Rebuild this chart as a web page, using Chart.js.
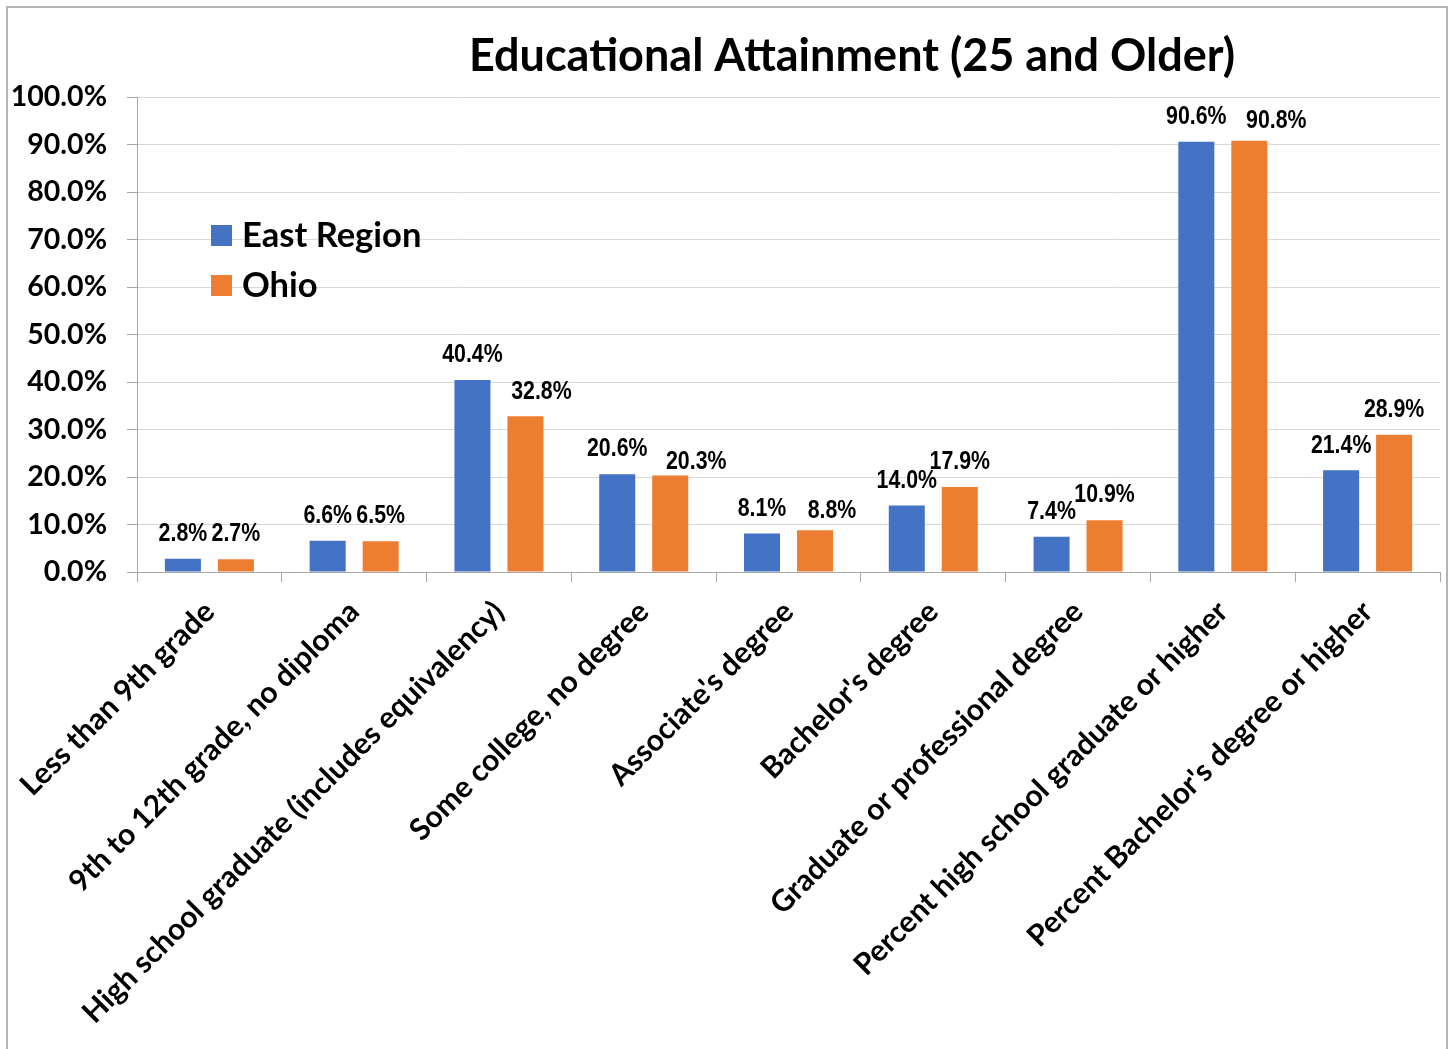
<!DOCTYPE html>
<html>
<head>
<meta charset="utf-8">
<script src="https://cdn.jsdelivr.net/npm/chart.js@4/dist/chart.umd.min.js"></script>
<style>
  html, body { margin: 0; padding: 0; background: #ffffff; }
  #wrap { position: relative; width: 1453px; height: 1049px; }
</style>
</head>
<body>
<div id="wrap"><canvas id="c" width="1453" height="1049"></canvas></div>
<script>
const categories = [
  "Less than 9th grade",
  "9th to 12th grade, no diploma",
  "High school graduate (includes equivalency)",
  "Some college, no degree",
  "Associate's degree",
  "Bachelor's degree",
  "Graduate or professional degree",
  "Percent high school graduate or higher",
  "Percent Bachelor's degree or higher"
];
const seriesNames = ["East Region", "Ohio"];
const eastRegion = [2.8, 6.6, 40.4, 20.6, 8.1, 14.0, 7.4, 90.6, 21.4];
const ohio = [2.7, 6.5, 32.8, 20.3, 8.8, 17.9, 10.9, 90.8, 28.9];
const yTicks = [0, 10, 20, 30, 40, 50, 60, 70, 80, 90, 100];
const chartTitle = "Educational Attainment (25 and Older)";

// style / layout settings
const COLORS = ["#4472C4", "#ED7D31"];
const FONT_MAIN = "Lato, 'Open Sans', sans-serif";
const FONT_LABEL = "'Liberation Sans', Arial, sans-serif";
const LABEL_SQUEEZE = 0.82; // emulate a narrow face
// small manual nudges for data labels (as in the source, to avoid overlaps)
const labelNudge = [
  { dx: [0,0,0,0,0,0,0,0,0], dy: [0,0,0,0,0,0,0,0,0] },
  { dx: [0,0,16,26,17,0,0,27,0], dy: [0,0,1,11,6,0,0,5,0] }
];

const borderPlugin = {
  id: 'outerBorder',
  beforeDraw(chart) {
    const ctx = chart.ctx;
    ctx.save();
    ctx.fillStyle = '#ffffff';
    ctx.fillRect(0, 0, chart.width, chart.height);
    ctx.strokeStyle = '#b4b4b4';
    ctx.lineWidth = 2;
    ctx.beginPath();
    ctx.moveTo(7, chart.height + 5);
    ctx.lineTo(7, 7);
    ctx.lineTo(1447, 7);
    ctx.lineTo(1447, chart.height + 5);
    ctx.stroke();
    ctx.restore();
  }
};

const titlePlugin = {
  id: 'customTitle',
  afterDraw(chart) {
    const ctx = chart.ctx;
    ctx.save();
    ctx.font = "bold 45px " + FONT_MAIN;
    ctx.fillStyle = '#000000';
    ctx.textAlign = 'center';
    ctx.textBaseline = 'middle';
    ctx.fillText(chartTitle, 852, 56);
    ctx.restore();
  }
};

const legendPlugin = {
  id: 'customLegend',
  afterDraw(chart) {
    const ctx = chart.ctx;
    ctx.save();
    ctx.font = "bold 34.5px " + FONT_MAIN;
    ctx.textBaseline = 'middle';
    ctx.textAlign = 'left';
    chart.data.datasets.forEach((ds, i) => {
      const y = 225 + i * 50;
      ctx.fillStyle = ds.backgroundColor;
      ctx.fillRect(211, y, 21, 21);
      ctx.fillStyle = '#000000';
      ctx.fillText(ds.label, 242, y + 11);
    });
    ctx.restore();
  }
};

const dataLabelPlugin = {
  id: 'dataLabels',
  afterDatasetsDraw(chart) {
    const ctx = chart.ctx;
    chart.data.datasets.forEach((ds, di) => {
      const meta = chart.getDatasetMeta(di);
      meta.data.forEach((bar, i) => {
        const v = ds.data[i];
        const nx = labelNudge[di].dx[i];
        const ny = labelNudge[di].dy[i];
        ctx.save();
        ctx.font = "bold 26px " + FONT_LABEL;
        ctx.fillStyle = '#000000';
        ctx.textAlign = 'center';
        ctx.textBaseline = 'middle';
        ctx.translate(bar.x + nx, bar.y - 25 + ny);
        ctx.scale(LABEL_SQUEEZE, 1);
        ctx.fillText(v.toFixed(1) + '%', 0, 0);
        ctx.restore();
      });
    });
  }
};

new Chart(document.getElementById('c'), {
  type: 'bar',
  data: {
    labels: categories,
    datasets: [
      { label: seriesNames[0], data: eastRegion, backgroundColor: COLORS[0] },
      { label: seriesNames[1], data: ohio, backgroundColor: COLORS[1] }
    ]
  },
  options: {
    responsive: false,
    animation: false,
    devicePixelRatio: 1,
    layout: { padding: { top: 97, right: 13, left: 0, bottom: 0 } },
    datasets: { bar: { categoryPercentage: 0.732, barPercentage: 0.68 } },
    plugins: {
      legend: { display: false },
      title: { display: false },
      tooltip: { enabled: false }
    },
    scales: {
      x: {
        afterFit(scale) { scale.height = 1049 - 572; },
        grid: {
          drawOnChartArea: false,
          drawTicks: true,
          tickLength: 10,
          tickColor: '#a6a6a6',
          offset: true
        },
        border: { display: true, color: '#a6a6a6', width: 1 },
        ticks: {
          autoSkip: false,
          minRotation: 45,
          maxRotation: 45,
          padding: 12,
          color: '#000000',
          font: { family: FONT_MAIN, size: 30, weight: 'bold' }
        }
      },
      y: {
        min: 0,
        max: 100,
        afterFit(scale) { scale.width = 137; },
        afterBuildTicks(scale) { scale.ticks = yTicks.map(v => ({ value: v })); },
        grid: {
          color: '#d9d9d9',
          lineWidth: 1,
          drawTicks: true,
          tickLength: 10,
          tickColor: '#a6a6a6'
        },
        border: { display: true, color: '#a6a6a6', width: 1 },
        ticks: {
          padding: 20,
          color: '#000000',
          font: { family: FONT_MAIN, size: 28.5, weight: 'bold' },
          callback: (v) => Number(v).toFixed(1) + '%'
        }
      }
    }
  },
  plugins: [borderPlugin, dataLabelPlugin, titlePlugin, legendPlugin]
});
</script>
</body>
</html>
